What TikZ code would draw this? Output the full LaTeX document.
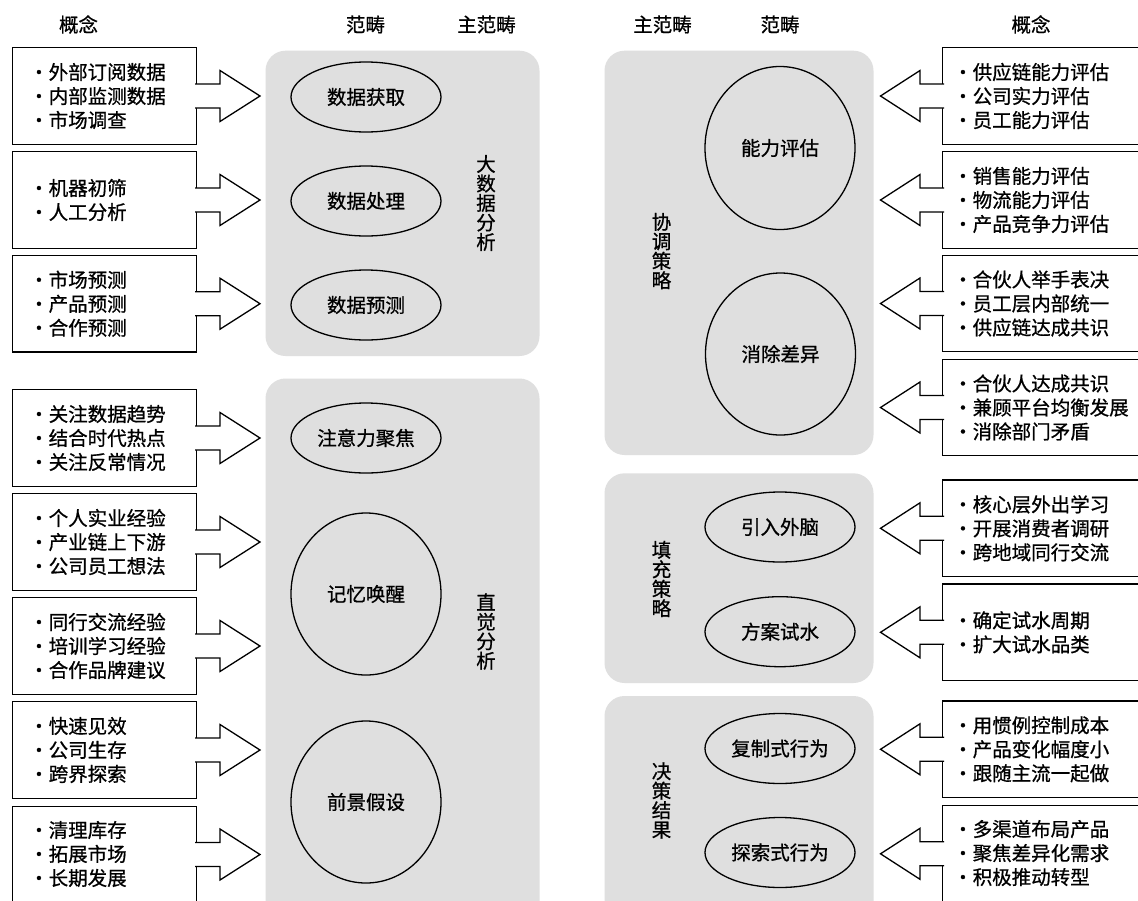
\documentclass[tikz,border=0pt]{standalone}
\usepackage{fontspec}
\setmainfont{Noto Sans CJK SC}[FakeBold=0.8]
\usetikzlibrary{shapes.geometric}
\definecolor{panelgray}{RGB}{223,223,223}
\newcommand\fsz{\fontsize{19.5pt}{24pt}\selectfont}
\newcommand\fsv{\fontsize{19.5pt}{19.5pt}\selectfont}
\newcommand\arrowR[1]{\path[arr] ([shift={(-1.5,-12)}]#1.east) -- ++(25,0) -- ++(0,-13.5) -- ++(40,25.5) -- ++(-40,25.5) -- ++(0,-13.5) -- ++(-25,0);}
\newcommand\arrowL[1]{\path[arr] ([shift={(1.5,-12)}]#1.west) -- ++(-24.2,0) -- ++(0,-13.5) -- ++(-39.5,25.5) -- ++(39.5,25.5) -- ++(0,-13.5) -- ++(24.2,0);}
\begin{document}
\begin{tikzpicture}[x=1pt,y=-1pt,
  panel/.style={fill=panelgray, rounded corners=20pt},
  lbox/.style={draw, line width=1.3pt, fill=white, outer sep=0pt, inner sep=0pt, minimum width=183.8pt, minimum height=96.5pt},
  rbox/.style={lbox, minimum width=210pt},
  cat/.style={ellipse, draw, line width=1.3pt, outer sep=0pt, inner sep=0pt, minimum width=150pt, minimum height=70pt, font=\fsz},
  bigcat/.style={cat, minimum height=162pt},
  items/.style={anchor=west, align=left, inner sep=0pt, font=\fsz},
  vlabel/.style={align=center, inner sep=0pt, font=\fsv},
  hdr/.style={inner sep=0pt, font=\fsz},
  arr/.style={draw, fill=white, line width=1.3pt, line join=miter}]
\useasboundingbox (0,0) rectangle (1138,900);
\clip (0,0) rectangle (1138,900);
\fill[white] (0,0) rectangle (1138,900);

% headers
\node[hdr] (h1) at (78.5,24.5) {概念};
\node[hdr] (h2) at (365.5,24.5) {范畴};
\node[hdr] (h3) at (486.5,24.5) {主范畴};
\node[hdr] (h4) at (662.5,24.5) {主范畴};
\node[hdr] (h5) at (780,24.5) {范畴};
\node[hdr] (h6) at (1031,24.5) {概念};

% panels
\fill[panel] (265.5,50.7) rectangle (539.5,356);
\fill[panel] (265.5,378.5) rectangle (539.5,940);
\fill[panel] (604.5,50.7) rectangle (873.5,455);
\fill[panel] (604.5,473.3) rectangle (873.5,683);
\fill[panel] (604.5,696) rectangle (873.5,940);

% left boxes
\node[lbox] (L1) at (104.6,96) {};
\node[lbox] (L2) at (104.6,200) {};
\node[lbox] (L3) at (104.6,303.7) {};
\node[lbox] (L4) at (104.6,438) {};
\node[lbox] (L5) at (104.6,542) {};
\node[lbox] (L6) at (104.6,646) {};
\node[lbox] (L7) at (104.6,750) {};
\node[lbox] (L8) at (104.6,854.5) {};
\node[items] (L1t) at (29,96) {・外部订阅数据\\・内部监测数据\\・市场调查};
\node[items] (L2t) at (29,200) {・机器初筛\\・人工分析};
\node[items] (L3t) at (29,303.7) {・市场预测\\・产品预测\\・合作预测};
\node[items] (L4t) at (29,438) {・关注数据趋势\\・结合时代热点\\・关注反常情况};
\node[items] (L5t) at (29,542) {・个人实业经验\\・产业链上下游\\・公司员工想法};
\node[items] (L6t) at (29,646) {・同行交流经验\\・培训学习经验\\・合作品牌建议};
\node[items] (L7t) at (29,750) {・快速见效\\・公司生存\\・跨界探索};
\node[items] (L8t) at (29,854) {・清理库存\\・拓展市场\\・长期发展};

% right boxes
\node[rbox] (R1) at (1047.7,96) {};
\node[rbox] (R2) at (1047.7,200) {};
\node[rbox] (R3) at (1047.7,303.5) {};
\node[rbox] (R4) at (1047.7,407.5) {};
\node[rbox] (R5) at (1047.7,528.3) {};
\node[rbox] (R6) at (1047.7,632.3) {};
\node[rbox] (R7) at (1047.7,749.3) {};
\node[rbox] (R8) at (1047.7,853.8) {};
\node[items] (R1t) at (953,96) {・供应链能力评估\\・公司实力评估\\・员工能力评估};
\node[items] (R2t) at (953,200) {・销售能力评估\\・物流能力评估\\・产品竞争力评估};
\node[items] (R3t) at (953,303.5) {・合伙人举手表决\\・员工层内部统一\\・供应链达成共识};
\node[items] (R4t) at (953,407.5) {・合伙人达成共识\\・兼顾平台均衡发展\\・消除部门矛盾};
\node[items] (R5t) at (953,528.3) {・核心层外出学习\\・开展消费者调研\\・跨地域同行交流};
\node[items] (R6t) at (953,632.3) {・确定试水周期\\・扩大试水品类};
\node[items] (R7t) at (953,749.3) {・用惯例控制成本\\・产品变化幅度小\\・跟随主流一起做};
\node[items] (R8t) at (953,853) {・多渠道布局产品\\・聚焦差异化需求\\・积极推动转型};

% arrows
\arrowR{L1}\arrowR{L2}\arrowR{L3}\arrowR{L4}\arrowR{L5}\arrowR{L6}\arrowR{L7}\arrowR{L8}
\arrowL{R1}\arrowL{R2}\arrowL{R3}\arrowL{R4}\arrowL{R5}\arrowL{R6}\arrowL{R7}\arrowL{R8}

% categories (left)
\node[cat] (E1) at (366,97) {数据获取};
\node[cat] (E2) at (366,201) {数据处理};
\node[cat] (E3) at (366,305) {数据预测};
\node[cat] (E4) at (366,438) {注意力聚焦};
\node[bigcat] (E5) at (366,594) {记忆唤醒};
\node[bigcat] (E6) at (366,802) {前景假设};

% categories (right)
\node[bigcat, minimum height=163pt] (F1) at (780,148) {能力评估};
\node[bigcat] (F2) at (780.5,354) {消除差异};
\node[cat] (F3) at (780,527) {引入外脑};
\node[cat] (F4) at (780,631.7) {方案试水};
\node[cat] (F5) at (780,748.5) {复制式行为};
\node[cat] (F6) at (780,852.5) {探索式行为};

% main categories
\node[vlabel] (V1) at (486,203) {大\\数\\据\\分\\析};
\node[vlabel] (V2) at (486,631.5) {直\\觉\\分\\析};
\node[vlabel] (V3) at (661.5,251) {协\\调\\策\\略};
\node[vlabel] (V4) at (661.5,579) {填\\充\\策\\略};
\node[vlabel] (V5) at (661.5,800.5) {决\\策\\结\\果};
\end{tikzpicture}
\end{document}
